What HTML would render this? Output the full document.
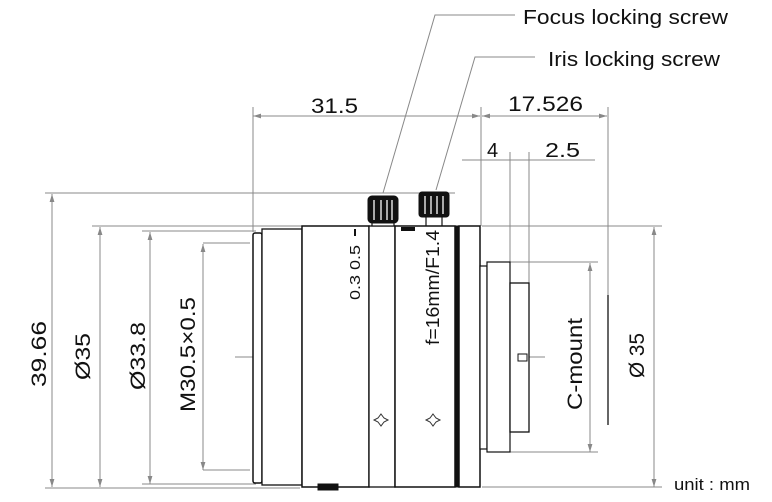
<!DOCTYPE html>
<html><head><meta charset="utf-8"><style>
html,body{margin:0;padding:0;background:#fff;}
svg{display:block;}
text{font-family:"Liberation Sans",Arial,sans-serif;fill:#111;}
</style></head><body>
<svg width="772" height="502" viewBox="0 0 772 502" xmlns="http://www.w3.org/2000/svg">
<defs>
<marker id="a" viewBox="0 0 10 6" refX="10" refY="3" markerWidth="8" markerHeight="5" orient="auto-start-reverse"><path d="M0,0 L10,3 L0,6 Z" fill="#888"/></marker>
</defs>
<g stroke="#888" stroke-width="1" fill="none">
<polyline points="515,15 435,15 383,193"/>
<polyline points="535,57 475,57 436,190"/>
<line x1="253" y1="107" x2="253" y2="232"/>
<line x1="481" y1="107" x2="481" y2="226"/>
<line x1="608" y1="107" x2="608" y2="295"/>
<line x1="253" y1="116" x2="480" y2="116" marker-start="url(#a)" marker-end="url(#a)"/>
<line x1="482" y1="116" x2="607" y2="116" marker-start="url(#a)" marker-end="url(#a)"/>
<line x1="462" y1="160" x2="595" y2="160"/>
<line x1="510" y1="152" x2="510" y2="262"/>
<line x1="529" y1="152" x2="529" y2="283"/>
<line x1="45" y1="193" x2="455" y2="193"/>
<line x1="45" y1="488" x2="300" y2="488"/>
<line x1="52" y1="194" x2="52" y2="487" marker-start="url(#a)" marker-end="url(#a)"/>
<line x1="92" y1="226" x2="302" y2="226"/>
<line x1="100" y1="227" x2="100" y2="487" marker-start="url(#a)" marker-end="url(#a)"/>
<line x1="142" y1="231" x2="256" y2="231"/>
<line x1="142" y1="484" x2="256" y2="484"/>
<line x1="150" y1="232" x2="150" y2="484" marker-start="url(#a)" marker-end="url(#a)"/>
<line x1="203" y1="243" x2="250" y2="243"/>
<line x1="203" y1="470" x2="250" y2="470"/>
<line x1="203" y1="244" x2="203" y2="470" marker-start="url(#a)" marker-end="url(#a)"/>
<line x1="482" y1="226" x2="662" y2="226"/>
<line x1="482" y1="487" x2="662" y2="487"/>
<line x1="654" y1="227" x2="654" y2="487" marker-start="url(#a)" marker-end="url(#a)"/>
<line x1="510" y1="262" x2="598" y2="262"/>
<line x1="510" y1="452" x2="598" y2="452"/>
<line x1="590" y1="263" x2="590" y2="452" marker-start="url(#a)" marker-end="url(#a)"/>
<line x1="235" y1="357" x2="550" y2="357" stroke-dasharray="40,6,2,6"/>
</g>
<line x1="608" y1="295" x2="608" y2="425" stroke="#333" stroke-width="1.5"/>
<g stroke="#111" fill="#fff">
<rect x="253" y="233" width="9" height="250" rx="2" stroke-width="1.5"/>
<rect x="262" y="229" width="40" height="256" stroke-width="1.3"/>
<rect x="302" y="226" width="67" height="261" stroke-width="1.5"/>
<rect x="369" y="226" width="26" height="261" stroke-width="1.3"/>
<rect x="395" y="226" width="60" height="261" stroke-width="1.5"/>
<rect x="455" y="226" width="4" height="261" fill="#111" stroke-width="1"/>
<rect x="459" y="226" width="21" height="261" stroke-width="1.5"/>
<rect x="480" y="266" width="7" height="183" stroke-width="1.2"/>
<rect x="487" y="262" width="23" height="190" stroke-width="1.2"/>
<rect x="510" y="283" width="19" height="149" stroke-width="1.3"/>
<rect x="518" y="354" width="9" height="7" stroke-width="1"/>
<rect x="372" y="216" width="22" height="10" stroke-width="1.2"/>
<rect x="368" y="196" width="30" height="27" rx="4" fill="#111" stroke-width="1"/>
<line x1="426" y1="216" x2="426" y2="226" stroke-width="1.2"/>
<line x1="442" y1="216" x2="442" y2="226" stroke-width="1.2"/>
<rect x="419" y="192" width="30" height="25" rx="3" fill="#111" stroke-width="1"/>
<rect x="318" y="484" width="20" height="6" fill="#111" stroke-width="1"/>
<rect x="401" y="227" width="14" height="4" fill="#111" stroke-width="0"/>
</g>
<g stroke="#ddd" stroke-width="1.5">
<line x1="374" y1="200" x2="374" y2="220"/><line x1="381" y1="200" x2="381" y2="220"/><line x1="387" y1="200" x2="387" y2="220"/><line x1="392" y1="200" x2="392" y2="220"/>
<line x1="425" y1="196" x2="425" y2="214"/><line x1="431" y1="196" x2="431" y2="214"/><line x1="437" y1="196" x2="437" y2="214"/><line x1="443" y1="196" x2="443" y2="214"/>
</g>
<rect x="354" y="229" width="2" height="7" fill="#111"/>
<g fill="none" stroke="#333" stroke-width="1">
<path d="M381,414 L384,418 L388,420 L384,422 L381,426 L378,422 L374,420 L378,418 Z"/>
<path d="M433,414 L436,418 L440,420 L436,422 L433,426 L430,422 L426,420 L430,418 Z"/>
</g>
<g>
<text x="523" y="24" font-size="20" textLength="205" lengthAdjust="spacingAndGlyphs">Focus locking screw</text>
<text x="548" y="66" font-size="20" textLength="172" lengthAdjust="spacingAndGlyphs">Iris locking screw</text>
<text x="311" y="113" font-size="21" textLength="47" lengthAdjust="spacingAndGlyphs">31.5</text>
<text x="508" y="111" font-size="21" textLength="75" lengthAdjust="spacingAndGlyphs">17.526</text>
<text x="487" y="157" font-size="20">4</text>
<text x="545" y="157" font-size="20" textLength="35" lengthAdjust="spacingAndGlyphs">2.5</text>
<text x="674" y="490" font-size="17" textLength="76" lengthAdjust="spacingAndGlyphs">unit : mm</text>
</g>
<g font-size="21">
<text transform="translate(46,387) rotate(-90)" textLength="66" lengthAdjust="spacingAndGlyphs">39.66</text>
<text transform="translate(90,380) rotate(-90)" textLength="47" lengthAdjust="spacingAndGlyphs">Ø35</text>
<text transform="translate(145,390) rotate(-90)" textLength="68" lengthAdjust="spacingAndGlyphs">Ø33.8</text>
<text transform="translate(195,412) rotate(-90)" textLength="115" lengthAdjust="spacingAndGlyphs">M30.5×0.5</text>
<text transform="translate(582,410) rotate(-90)" textLength="92" lengthAdjust="spacingAndGlyphs">C-mount</text>
<text transform="translate(644,378) rotate(-90)" textLength="45" lengthAdjust="spacingAndGlyphs">Ø 35</text>
<text font-size="18" transform="translate(439,345) rotate(-90)" textLength="115" lengthAdjust="spacingAndGlyphs">f=16mm/F1.4</text>
<text font-size="15" transform="translate(360,300) rotate(-90)" textLength="55" lengthAdjust="spacingAndGlyphs">0.3 0.5</text>
</g>
</svg>
</body></html>
